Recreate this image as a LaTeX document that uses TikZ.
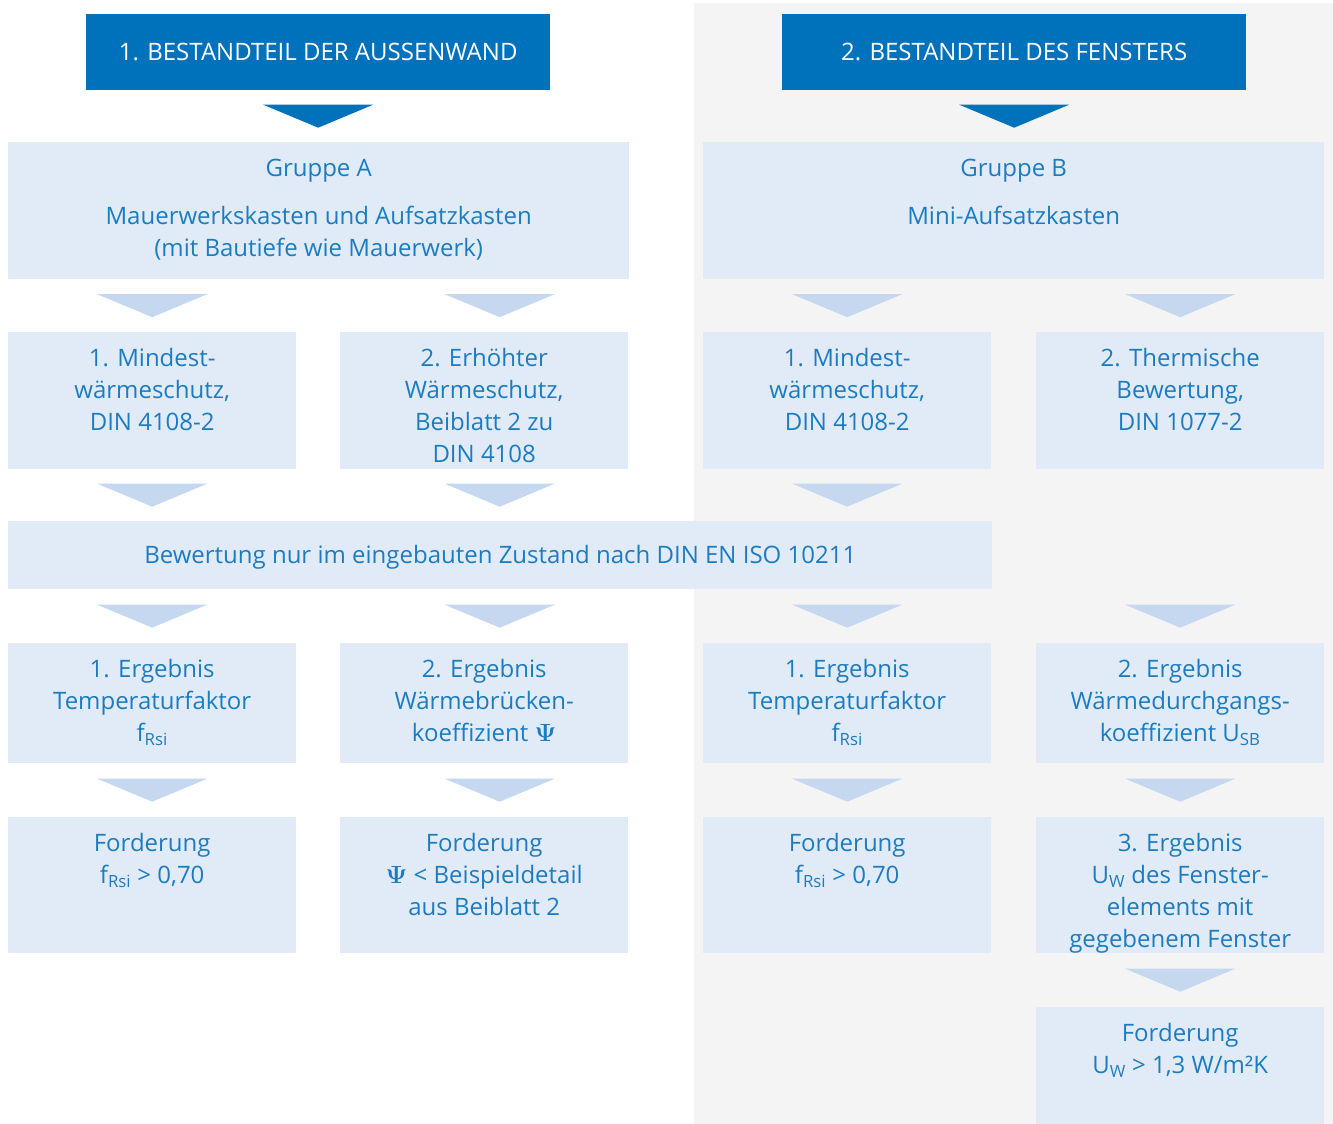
\documentclass[tikz,border=0pt]{standalone}
\usepackage[no-math]{fontspec}
\setmainfont{Open Sans}
\usetikzlibrary{calc}
\definecolor{hdr}{RGB}{0,114,187}
\definecolor{lbox}{RGB}{225,235,247}
\definecolor{larr}{RGB}{198,216,240}
\definecolor{tblue}{RGB}{28,124,194}
\definecolor{bgg}{RGB}{244,244,244}
\newcommand\mfont{\fontsize{24}{32}\selectfont}
\newcommand\hfont{\fontsize{24}{28}\selectfont}
\newcommand\bx[6]{\node[box,anchor=north west] (#1) at (#2,#3) {\parbox[c][#5pt][t]{#4pt}{\centering\vspace*{12pt}\strut #6}};}
\newcommand\tri[5][0]{%
  \coordinate (tmpm) at ($(#3.south)!.5!(#4.north)$);
  \fill[#5] (#2.center |- tmpm) ++({#1-55},-11.5) -- ++(110,0) -- ++(-55,23) -- cycle;}
\newcommand\Ps{$\mathbf{\Psi}$}
\tikzset{
  box/.style={fill=lbox, inner sep=0pt, text=tblue, font=\mfont},
  hdrbox/.style={fill=hdr, inner sep=0pt, text=white, font=\hfont, minimum width=464pt, minimum height=76pt, anchor=north west},
}
\begin{document}
\begin{tikzpicture}[x=1pt,y=-1pt]
\useasboundingbox (0,0) rectangle (1333,1124);
\fill[bgg] (694,3) rectangle (1333,1124);
\node[hdrbox] (h1) at (86,14) {1. BESTANDTEIL DER AUSSENWAND};
\node[hdrbox] (h2) at (782,14) {2. BESTANDTEIL DES FENSTERS};
\bx{grA}{8}{142}{621}{137}{Gruppe A\\[16pt]Mauerwerkskasten und Aufsatzkasten\\(mit Bautiefe wie Mauerwerk)}
\bx{grB}{703}{142}{621}{137}{Gruppe B\\[16pt]Mini-Aufsatzkasten}
\bx{a1}{8}{332}{288}{137}{1. Mindest-\\wärmeschutz,\\DIN 4108-2}
\bx{a2}{340}{332}{288}{137}{2. Erhöhter\\Wärmeschutz,\\Beiblatt 2 zu\\DIN 4108}
\bx{b1}{703}{332}{288}{137}{1. Mindest-\\wärmeschutz,\\DIN 4108-2}
\bx{b2}{1036}{332}{288}{137}{2. Thermische\\Bewertung,\\DIN 1077-2}
\node[box, anchor=north west, minimum width=984pt, minimum height=68pt] (bew) at (8,521) {\raisebox{-2pt}[\height][\depth]{Bewertung nur im eingebauten Zustand nach DIN EN ISO 10211}};
\bx{ea1}{8}{643}{288}{120}{1. Ergebnis\\Temperaturfaktor\\f\textsubscript{Rsi}}
\bx{ea2}{340}{643}{288}{120}{2. Ergebnis\\Wärmebrücken-\\koeffizient \Ps}
\bx{eb1}{703}{643}{288}{120}{1. Ergebnis\\Temperaturfaktor\\f\textsubscript{Rsi}}
\bx{eb2}{1036}{643}{288}{120}{2. Ergebnis\\Wärmedurchgangs-\\koeffizient U\textsubscript{SB}}
\bx{fa1}{8}{817}{288}{136}{Forderung\\f\textsubscript{Rsi} > 0,70}
\bx{fa2}{340}{817}{288}{136}{Forderung\\\Ps{} < Beispieldetail\\aus Beiblatt 2}
\bx{fb1}{703}{817}{288}{136}{Forderung\\f\textsubscript{Rsi} > 0,70}
\bx{eb3}{1036}{817}{288}{136}{3. Ergebnis\\U\textsubscript{W} des Fenster-\\elements mit\\gegebenem Fenster}
\bx{fb2}{1036}{1007}{288}{117}{Forderung\\U\textsubscript{W} > 1,3 W/m²K}
\tri{h1}{h1}{grA}{hdr}
\tri{h2}{h2}{grB}{hdr}
\tri{a1}{grA}{a1}{larr}
\tri[15.5]{a2}{grA}{a2}{larr}
\tri{b1}{grB}{b1}{larr}
\tri{b2}{grB}{b2}{larr}
\tri{a1}{a1}{bew}{larr}
\tri[15.5]{a2}{a2}{bew}{larr}
\tri{b1}{b1}{bew}{larr}
\tri{ea1}{bew}{ea1}{larr}
\tri[15.5]{ea2}{bew}{ea2}{larr}
\tri{eb1}{bew}{eb1}{larr}
\tri{eb2}{bew}{eb2}{larr}
\tri{ea1}{ea1}{fa1}{larr}
\tri[15.5]{ea2}{ea2}{fa2}{larr}
\tri{eb1}{eb1}{fb1}{larr}
\tri{eb2}{eb2}{eb3}{larr}
\tri{eb3}{eb3}{fb2}{larr}
\end{tikzpicture}
\end{document}
